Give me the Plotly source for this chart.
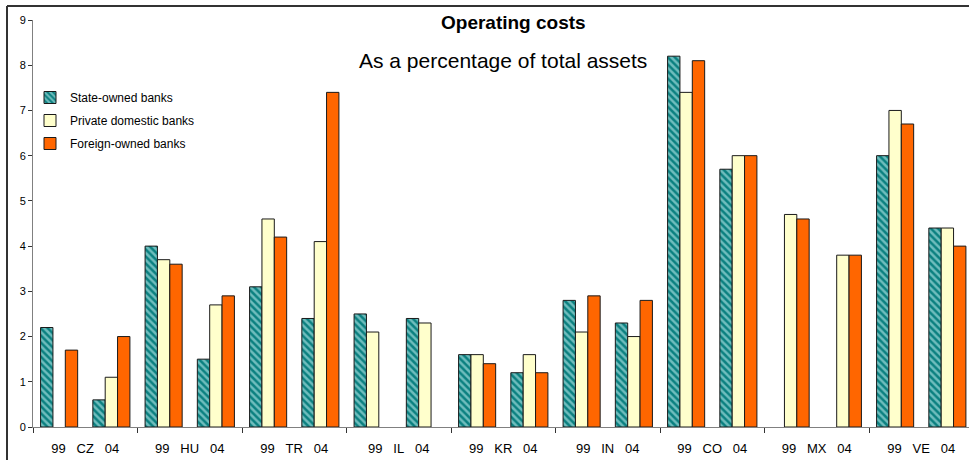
import plotly.graph_objects as go

countries = ["CZ", "HU", "TR", "IL", "KR", "IN", "CO", "MX", "VE"]
years = ["99", "04"]

state_owned = [2.2, 0.6, 4.0, 1.5, 3.1, 2.4, 2.5, 2.4, 1.6, 1.2, 2.8, 2.3, 8.2, 5.7, None, None, 6.0, 4.4]
private_domestic = [None, 1.1, 3.7, 2.7, 4.6, 4.1, 2.1, 2.3, 1.6, 1.6, 2.1, 2.0, 7.4, 6.0, 4.7, 3.8, 7.0, 4.4]
foreign_owned = [1.7, 2.0, 3.6, 2.9, 4.2, 7.4, None, None, 1.4, 1.2, 2.9, 2.8, 8.1, 6.0, 4.6, 3.8, 6.7, 4.0]

series_names = ["State-owned banks", "Private domestic banks", "Foreign-owned banks"]
y_ticks = [0, 1, 2, 3, 4, 5, 6, 7, 8, 9]

n = len(countries) * len(years)
xpos = list(range(n))
group_centers = [i * 2 + 0.5 for i in range(len(countries))]
group_bounds = [i * 2 - 0.5 for i in range(len(countries) + 1)]
sp = "\u00a0" * 3
group_labels = [f"{years[0]}{sp}{c}{sp}{years[1]}" for c in countries]

line = dict(color="#1a1a1a", width=1)
fig = go.Figure()
fig.add_trace(go.Bar(
    x=xpos, y=state_owned, name=series_names[0], legendgroup="a",
    marker=dict(color="#0b8080", line=line,
                pattern=dict(shape="\\", fgcolor="#d4fafa", fillmode="overlay", size=5, solidity=0.5)),
))
fig.add_trace(go.Bar(
    x=xpos, y=private_domestic, name=series_names[1], legendgroup="b",
    marker=dict(color="#FFFFCC", line=line),
))
fig.add_trace(go.Bar(
    x=xpos, y=foreign_owned, name=series_names[2], legendgroup="c",
    marker=dict(color="#FF6600", line=line),
))

W, H = 969, 460
ml, mr, mt, mb = 33, 0, 20, 33
pw = W - ml - mr
ph = H - mt - mb
cat_px = 52.25
xmax = -0.5 + pw / cat_px


def px2x(px):
    return (px - ml) / pw


def py2y(py):
    return (H - mb - py) / ph


fig.update_layout(
    width=W, height=H,
    margin=dict(l=ml, r=mr, t=mt, b=mb, autoexpand=False),
    paper_bgcolor="white", plot_bgcolor="white",
    barmode="group", bargap=0.29, bargroupgap=0,
    font=dict(family="Arial, Liberation Sans, sans-serif", color="black"),
    showlegend=True,
    legend=dict(x=px2x(30), y=py2y(83), xanchor="left", yanchor="top",
                bgcolor="rgba(0,0,0,0)", font=dict(size=12),
                traceorder="grouped", tracegroupgap=4, itemwidth=30),
    xaxis=dict(range=[-0.5, xmax], tickmode="array", tickvals=group_centers, ticktext=group_labels,
               ticks="", showline=True, linecolor="#808080", linewidth=1, showgrid=False, zeroline=False,
               tickfont=dict(size=13), ticklabelstandoff=9, automargin=False,
               minor=dict(tickmode="array", tickvals=group_bounds, ticks="outside", ticklen=5,
                          tickcolor="#333333", showgrid=False)),
    yaxis=dict(range=[0, 9], tickmode="array", tickvals=y_ticks, ticks="outside", ticklen=4,
               tickcolor="#333333", showline=True, linecolor="#808080", linewidth=1, automargin=False,
               showgrid=False, zeroline=False, tickfont=dict(size=11)),
    annotations=[
        dict(text="<b>Operating costs</b>", xref="paper", yref="paper", x=px2x(513), y=py2y(22),
             xanchor="center", yanchor="middle", showarrow=False, font=dict(size=19)),
        dict(text="As a percentage of total assets", xref="paper", yref="paper", x=px2x(503), y=py2y(60),
             xanchor="center", yanchor="middle", showarrow=False, font=dict(size=21)),
    ],
    shapes=[
        dict(type="line", xref="paper", yref="paper", x0=px2x(7), x1=px2x(7), y0=py2y(470), y1=py2y(6),
             line=dict(color="#333333", width=2)),
        dict(type="line", xref="paper", yref="paper", x0=px2x(7), x1=px2x(975), y0=py2y(6), y1=py2y(6),
             line=dict(color="#333333", width=2)),
    ],
)

fig.write_html("out.html", config={"displayModeBar": False},
               post_script="document.body.style.margin='0';document.body.style.overflow='hidden';")
